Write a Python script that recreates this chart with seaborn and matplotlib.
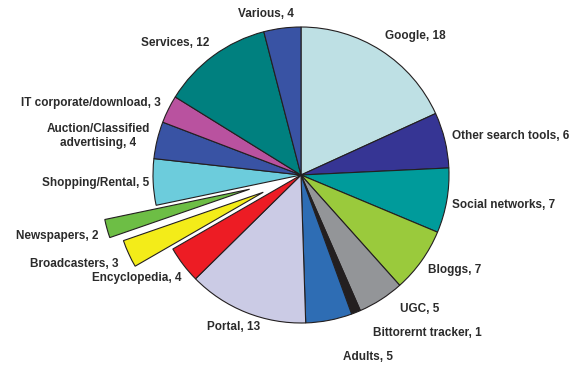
import matplotlib
matplotlib.use("Agg")
import matplotlib.pyplot as plt
import seaborn as sns

categories = ["Google", "Other search tools", "Social networks", "Bloggs", "UGC",
              "Bittorernt tracker", "Adults", "Portal", "Encyclopedia", "Broadcasters",
              "Newspapers", "Shopping/Rental", "Auction/Classified\nadvertising",
              "IT corporate/download", "Services", "Various"]
values = [18, 6, 7, 7, 5, 1, 5, 13, 4, 3, 2, 5, 4, 3, 12, 4]
colors = ["#BEE0E4", "#363594", "#009B9B", "#9ACA3C", "#939598", "#231F20", "#2E6DB4",
          "#CBCBE5", "#ED1C24", "#F3EC19", "#6DBE45", "#6CCCDC", "#3953A4", "#B9529F",
          "#00807F", "#3953A4"]
explode = [0, 0, 0, 0, 0, 0, 0, 0, 0, 0.28, 0.36, 0, 0, 0, 0, 0]

# label anchor positions in pixels (x, y from top) and alignment
label_pos = [(415, 36, "center"), (452, 136, "left"), (452, 205, "left"), (428, 270, "left"),
             (400, 309, "left"), (373, 333, "left"), (343, 357, "left"), (234, 327, "center"),
             (137, 278, "center"), (119, 264, "right"), (99, 236, "right"), (149, 183, "right"),
             (98, 136, "center"), (91, 103, "center"), (175, 43, "center"), (266, 14, "center")]

sns.set_theme(style="white")
plt.rcParams['font.family'] = ['Liberation Sans', 'DejaVu Sans']

W, H = 572, 367
cx, cy, R = 301, 175, 148
fig = plt.figure(figsize=(W / 100, H / 100), dpi=100)
ax = fig.add_axes([0, 0, 1, 1])
ax.pie(values, colors=colors, explode=[e * R for e in explode], startangle=90,
       counterclock=False, radius=R, center=(0, 0),
       wedgeprops=dict(edgecolor="#231F20", linewidth=0.8))
ax.set_xlim(-cx, W - cx)
ax.set_ylim(-(H - cy), cy)
ax.set_aspect("equal")
ax.axis("off")

for cat, v, (px, py, ha) in zip(categories, values, label_pos):
    ax.text(px - cx, cy - py, f"{cat}, {v}", ha=ha, va="center", fontsize=8.5,
            fontweight="bold", color="#2B2B2B", multialignment="center", linespacing=1.3)

fig.savefig("out.png", dpi=100)
